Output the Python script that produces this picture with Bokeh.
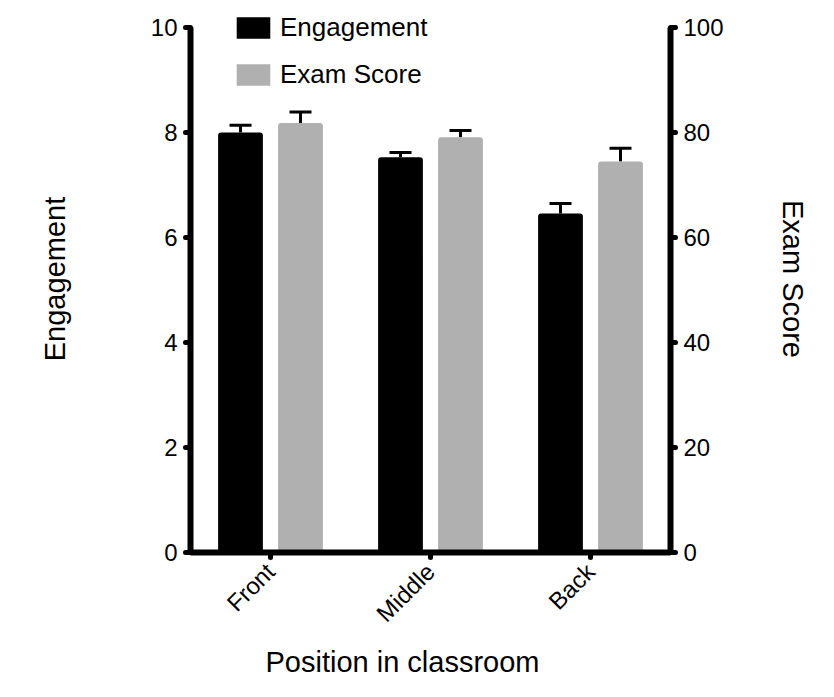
from bokeh.plotting import figure
from bokeh.models import (FactorRange, Range1d, LinearAxis, FixedTicker, Whisker, TeeHead,
                          ColumnDataSource, Legend, LegendItem, Title)
from bokeh.transform import dodge
from bokeh.embed import file_html
from bokeh.resources import INLINE

# ---- data ----
positions = ["Front", "Middle", "Back"]
engagement = [8.0, 7.53, 6.46]
engagement_err = [0.14, 0.09, 0.19]
exam_score = [81.8, 79.1, 74.5]
exam_score_err = [2.1, 1.3, 2.5]
left_ticks = [0, 2, 4, 6, 8, 10]
right_ticks = [0, 20, 40, 60, 80, 100]

FONT = "Liberation Sans"

src = ColumnDataSource(dict(
    pos=positions,
    eng=engagement,
    eng_up=[v + e for v, e in zip(engagement, engagement_err)],
    exam=exam_score,
    exam_up=[v + e for v, e in zip(exam_score, exam_score_err)],
))

# frame reaches a little above the top tick so that the legend can sit there;
# the axis lines are bounded to the tick range
TOP_PAD = 0.42
p = figure(width=818, height=681, output_backend="svg", toolbar_location=None,
           x_range=FactorRange(factors=positions, range_padding=0),
           y_range=Range1d(0, 10 + TOP_PAD),
           min_border_left=190, min_border_right=148, min_border_top=5, min_border_bottom=129)
p.extra_y_ranges = {"exam": Range1d(0, 100 + 10 * TOP_PAD)}
p.outline_line_color = None
p.xgrid.visible = False
p.ygrid.visible = False

off = 0.1875
bw = 0.28
r1 = p.vbar(x=dodge("pos", -off, range=p.x_range), top="eng", width=bw, source=src,
            fill_color="black", line_color=None, border_radius=3)
r2 = p.vbar(x=dodge("pos", off, range=p.x_range), top="exam", width=bw, source=src,
            fill_color="#b0b0b0", line_color=None, border_radius=3, y_range_name="exam")

w1 = Whisker(base=dodge("pos", -off, range=p.x_range), lower="eng", upper="eng_up", source=src,
             dimension="height", line_width=3, line_color="black",
             upper_head=TeeHead(size=22, line_width=3, line_color="black"), lower_head=None)
w2 = Whisker(base=dodge("pos", off, range=p.x_range), lower="exam", upper="exam_up", source=src,
             dimension="height", line_width=3, line_color="black", y_range_name="exam",
             upper_head=TeeHead(size=22, line_width=3, line_color="black"), lower_head=None)
p.add_layout(w1)
p.add_layout(w2)


def style_axis(ax):
    ax.axis_line_width = 6
    ax.axis_line_color = "black"
    ax.major_tick_line_width = 5
    ax.major_tick_line_cap = "round"
    ax.major_tick_in = 0
    ax.major_tick_out = 5
    ax.minor_tick_line_color = None
    ax.major_label_text_font = FONT
    ax.major_label_text_font_size = "24px"
    ax.major_label_text_color = "black"
    ax.axis_label_text_font = FONT
    ax.axis_label_text_font_size = "29px"
    ax.axis_label_text_font_style = "normal"
    ax.axis_label_text_color = "black"


yl = p.yaxis[0]
style_axis(yl)
yl.ticker = FixedTicker(ticks=left_ticks)
yl.bounds = (0, 10)
yl.axis_label = "Engagement"
yl.major_label_standoff = 8
yl.axis_label_standoff = 77

yr = LinearAxis(y_range_name="exam", ticker=FixedTicker(ticks=right_ticks), axis_label="Exam Score",
                bounds=(0, 100))
style_axis(yr)
yr.major_label_standoff = 8
yr.axis_label_standoff = 50
p.add_layout(yr, "right")

xa = p.xaxis[0]
style_axis(xa)
xa.major_label_orientation = 0.785398
xa.major_label_standoff = 10

xt = Title(text="Position in classroom", align="left", offset=75, text_font=FONT,
           text_font_size="29px", text_font_style="normal", text_color="black", standoff=8)
p.add_layout(xt, "below")

legend = Legend(items=[LegendItem(label="Engagement", renderers=[r1]),
                       LegendItem(label="Exam Score", renderers=[r2])],
                location=(42, 462), glyph_width=42, glyph_height=27,
                label_text_font=FONT, label_text_font_size="26px", label_text_color="black",
                label_standoff=6, spacing=16, padding=0, margin=0, border_line_color=None,
                background_fill_alpha=0)
p.add_layout(legend, "center")

open("out.html", "w").write(file_html(p, INLINE))
